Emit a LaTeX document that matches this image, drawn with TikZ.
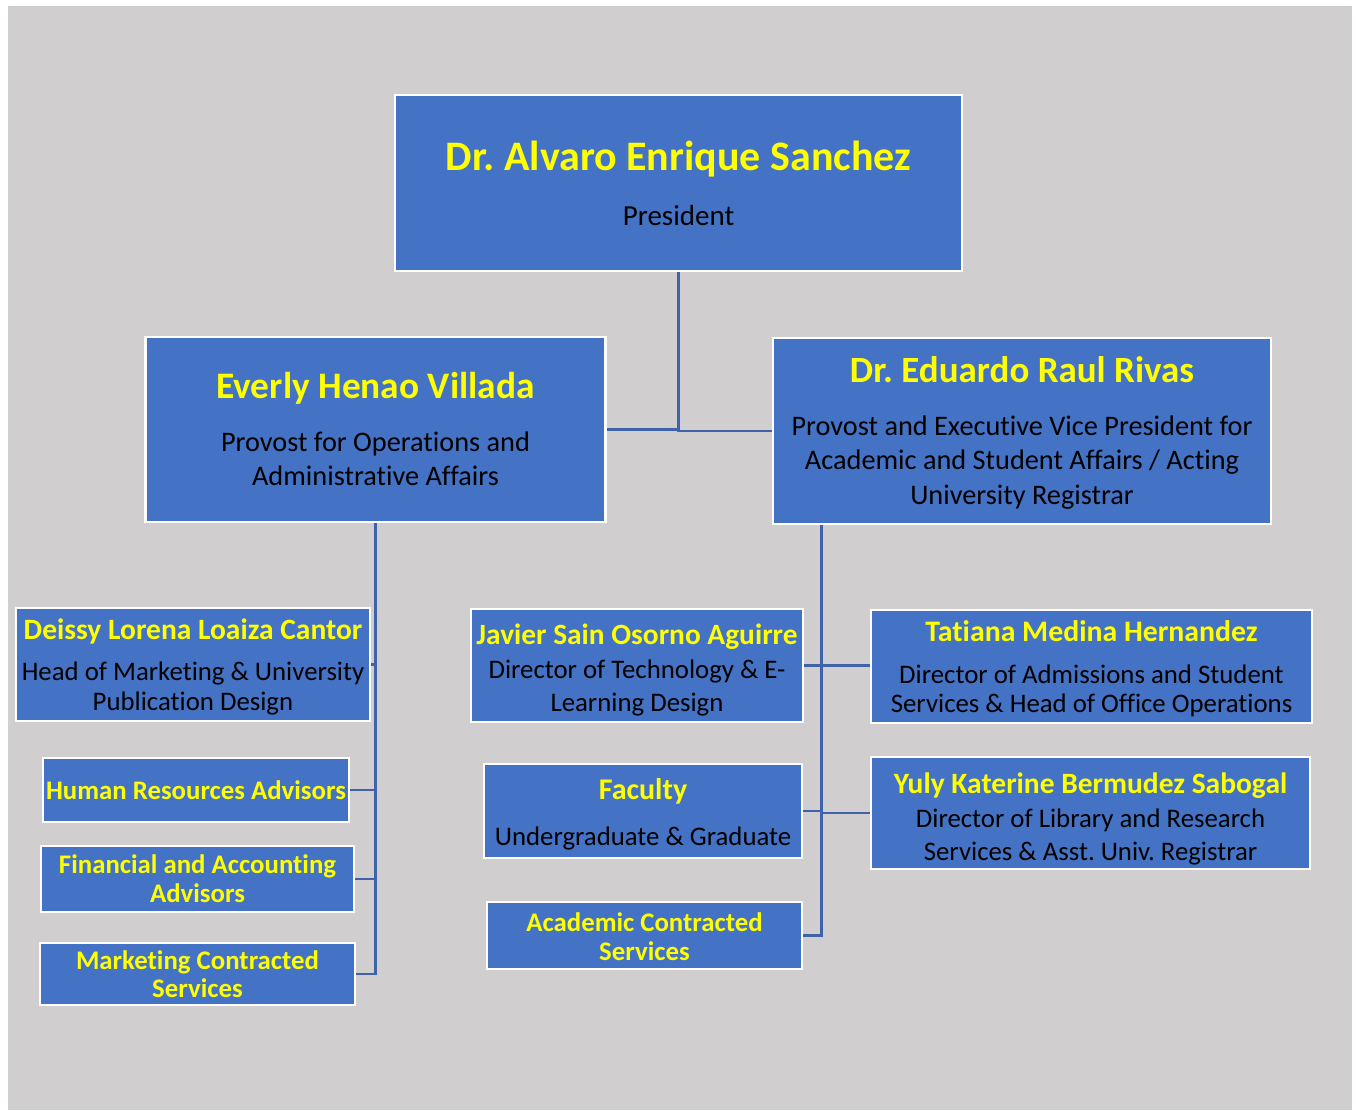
\documentclass[tikz,border=0pt]{standalone}
\usepackage{fontspec}
\setmainfont{Carlito}[Ligatures=NoCommon]
\frenchspacing
\definecolor{boxblue}{HTML}{4472C4}
\definecolor{linkblue}{HTML}{3E63AA}
\definecolor{bggray}{HTML}{D0CECE}
\definecolor{nameyellow}{HTML}{FFFF00}
\newcommand{\who}[2]{{\fontsize{#1}{#1}\selectfont\bfseries\color{nameyellow}#2}}
\tikzset{
  orgbox/.style={draw=white, line width=2.5pt, fill=boxblue, inner sep=0pt},
  boxtext/.style={inner sep=0pt, align=center, font=\fontsize{26.8}{#1}\selectfont},
  boxtext/.default=30,
  bigtext/.style={inner sep=0pt, align=center, font=\fontsize{28.3}{#1}\selectfont},
  bigtext/.default=34,
  link/.style={draw=linkblue, line width=2.6pt},
}
\begin{document}
\begin{tikzpicture}[x=1pt,y=-1pt]
  \useasboundingbox (0,0) rectangle (1356,1110);
  \fill[bggray] (8,6) rectangle (1352,1110);

  % top level
  \node[orgbox, minimum width=567, minimum height=176] (president) at (678.5,183) {};
  \node[bigtext, font=\fontsize{29}{34}\selectfont] (president-t) at (president)
    {\who{42}{Dr. Alvaro Enrique Sanchez}\\[21pt] President};
  \node[orgbox, minimum width=460, minimum height=185] (everly) at (375.5,429.5) {};
  \node[bigtext, yshift=1pt] (everly-t) at (everly)
    {\who{37.4}{Everly Henao Villada}\\[19pt] Provost for Operations and\\ Administrative Affairs};
  \node[orgbox, minimum width=498, minimum height=186] (eduardo) at (1022,431) {};
  \node[bigtext=34.5, yshift=-2pt] (eduardo-t) at (eduardo)
    {\who{37}{Dr. Eduardo Raul Rivas}\\[18pt] Provost and Executive Vice President for\\ Academic and Student Affairs / Acting\\ University Registrar};

  % left branch
  \node[orgbox, minimum width=354, minimum height=113] (deissy) at (193,664.5) {};
  \node[boxtext, yshift=-2pt] (deissy-t) at (deissy)
    {\who{29.5}{Deissy Lorena Loaiza Cantor}\\[11pt] Head of Marketing \& University\\ Publication Design};
  \node[orgbox, minimum width=306, minimum height=64] (hr) at (196,790) {};
  \node[boxtext] (hr-t) at (hr) {\who{26.8}{Human Resources Advisors}};
  \node[orgbox, minimum width=313, minimum height=66] (fin) at (197.5,879) {};
  \node[boxtext=29] (fin-t) at (fin)
    {\who{26.8}{Financial and Accounting}\\ \who{26.8}{Advisors}};
  \node[orgbox, minimum width=315, minimum height=62] (mktg) at (197.5,974) {};
  \node[boxtext=28] (mktg-t) at (mktg)
    {\who{26.8}{Marketing Contracted}\\ \who{26.8}{Services}};

  % right branch
  \node[orgbox, minimum width=332, minimum height=113] (javier) at (637,665.5) {};
  \node[boxtext=33, yshift=-4pt] (javier-t) at (javier)
    {\who{29.4}{Javier Sain Osorno Aguirre}\\[1pt] Director of Technology \& E-\\ Learning Design};
  \node[orgbox, minimum width=318, minimum height=94] (faculty) at (643,811) {};
  \node[boxtext=34, yshift=-3pt] (faculty-t) at (faculty)
    {\who{30}{Faculty}\\[12pt] Undergraduate \& Graduate};
  \node[orgbox, minimum width=315, minimum height=67] (acad) at (644.5,935.5) {};
  \node[boxtext=29, yshift=-1pt] (acad-t) at (acad)
    {\who{26.8}{Academic Contracted}\\ \who{26.8}{Services}};
  \node[orgbox, minimum width=441, minimum height=113] (tatiana) at (1091.5,666.5) {};
  \node[boxtext=29, yshift=-2pt] (tatiana-t) at (tatiana)
    {\who{29.8}{Tatiana Medina Hernandez}\\[13pt] Director of Admissions and Student\\ Services \& Head of Office Operations};
  \node[orgbox, minimum width=439, minimum height=112] (yuly) at (1090.5,813) {};
  \node[boxtext=33, yshift=-6pt] (yuly-t) at (yuly)
    {\who{29.5}{Yuly Katerine Bermudez Sabogal}\\[1pt] Director of Library and Research\\ Services \& Asst. Univ. Registrar};

  % connectors
  \draw[link] (president.south) |- (everly.east);
  \draw[link] (president.south) |- (eduardo.west);

  \draw[link] (everly.south) |- (mktg.east);
  \draw[link] (deissy.east) -- (deissy.east -| everly.south);
  \draw[link] (hr.east) -- (hr.east -| everly.south);
  \draw[link] (fin.east) -- (fin.east -| everly.south);

  \coordinate (rtop) at ([xshift=50pt]eduardo.south west);
  \draw[link] (rtop) |- (acad.east);
  \draw[link] (javier.east) -- (javier.east -| tatiana.west);
  \draw[link] (faculty.east) -- (faculty.east -| rtop);
  \draw[link] (yuly.west) -- (yuly.west -| rtop);
\end{tikzpicture}
\end{document}
